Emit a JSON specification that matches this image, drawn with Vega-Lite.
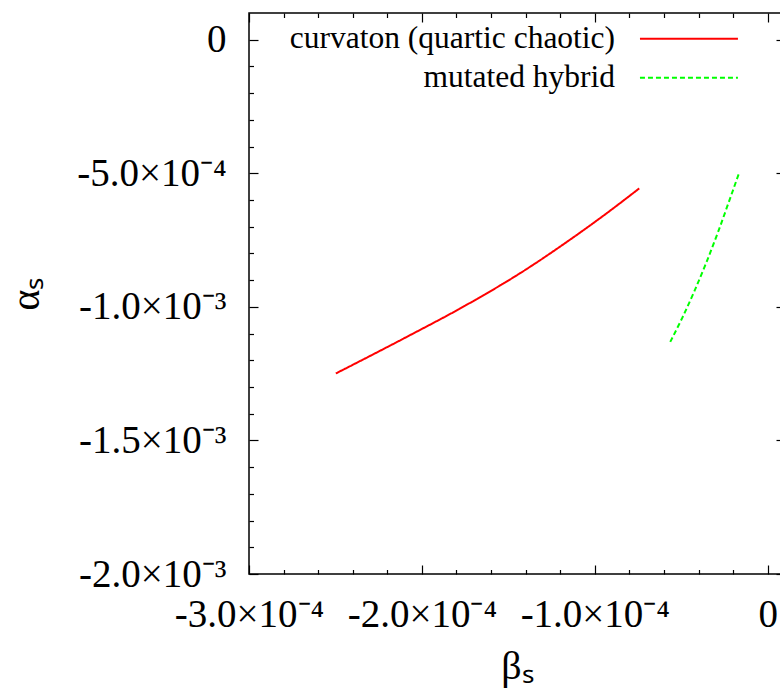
{
  "$schema": "https://vega.github.io/schema/vega-lite/v6.json",
  "width": 536,
  "height": 561,
  "autosize": {"type": "none"},
  "padding": {"left": 249, "top": 13, "right": 0, "bottom": 116},
  "background": "white",
  "config": {
    "view": {"stroke": "black", "strokeWidth": 1.5},
    "axis": {
      "grid": false,
      "domain": false,
      "labelFont": "Liberation Serif",
      "labelFontSize": 39,
      "labelColor": "black",
      "tickColor": "black",
      "tickWidth": 1.2,
      "titleFont": "Liberation Serif",
      "titleFontSize": 40,
      "titleFontWeight": "normal",
      "titleColor": "black",
      "labelFlush": false,
      "labelOverlap": false,
      "labelBound": false
    }
  },
  "data": {
    "values": [
      {"model": "curvaton (quartic chaotic)", "beta": -0.0002498, "alpha": -0.0012494},
      {"model": "curvaton (quartic chaotic)", "beta": -0.0002107, "alpha": -0.001119},
      {"model": "curvaton (quartic chaotic)", "beta": -0.000174, "alpha": -0.000992},
      {"model": "curvaton (quartic chaotic)", "beta": -0.0001432, "alpha": -0.000874},
      {"model": "curvaton (quartic chaotic)", "beta": -0.0001142, "alpha": -0.000748},
      {"model": "curvaton (quartic chaotic)", "beta": -0.000093, "alpha": -0.000649},
      {"model": "curvaton (quartic chaotic)", "beta": -0.0000743, "alpha": -0.0005566},
      {"model": "mutated hybrid", "beta": -0.00005637, "alpha": -0.0011311},
      {"model": "mutated hybrid", "beta": -0.00004942, "alpha": -0.0010412},
      {"model": "mutated hybrid", "beta": -0.00004248, "alpha": -0.0009423},
      {"model": "mutated hybrid", "beta": -0.00003553, "alpha": -0.0008345},
      {"model": "mutated hybrid", "beta": -0.00002859, "alpha": -0.0007176},
      {"model": "mutated hybrid", "beta": -0.00002164, "alpha": -0.0005918},
      {"model": "mutated hybrid", "beta": -0.00001684, "alpha": -0.0005041}
    ]
  },
  "layer": [
    {
      "mark": {"type": "line", "strokeWidth": 2, "interpolate": "monotone"},
      "encoding": {
        "x": {
          "field": "beta", "type": "quantitative",
          "scale": {"domain": [-0.0003, 0.00001], "nice": false, "zero": false},
          "axis": {
            "orient": "bottom",
            "values": [-0.0003, -0.0002, -0.0001, 0],
            "labelExpr": "datum.value == 0 ? '0' : '-' + format(abs(datum.value)*10000, '.1f') + '×10⁻⁴'",
            "tickSize": -9,
            "labelPadding": 30.5,
            "title": "βₛ",
            "titlePadding": 12
          }
        },
        "y": {
          "field": "alpha", "type": "quantitative",
          "scale": {"domain": [-0.002, 0.0001], "nice": false, "zero": false},
          "axis": {
            "orient": "left",
            "values": [0, -0.0005, -0.001, -0.0015, -0.002],
            "labelExpr": "datum.value == 0 ? '0' : abs(datum.value) < 0.0009 ? '-' + format(abs(datum.value)*10000, '.1f') + '×10⁻⁴' : '-' + format(abs(datum.value)*1000, '.1f') + '×10⁻³'",
            "tickSize": -9,
            "labelPadding": 32,
            "title": "αₛ",
            "titlePadding": 30
          }
        },
        "color": {
          "field": "model", "type": "nominal",
          "scale": {"domain": ["curvaton (quartic chaotic)", "mutated hybrid"], "range": ["#ff0000", "#00ff00"]},
          "legend": {
            "orient": "none", "legendX": 391, "legendY": 10, "padding": 0, "title": null,
            "labelFont": "Liberation Serif", "labelFontSize": 31.5, "labelColor": "black",
            "labelAlign": "right", "labelOffset": -89.6, "labelLimit": 600,
            "symbolType": "M-5,0L5,0", "symbolSize": 384, "symbolStrokeWidth": 2, "symbolOffset": 33.2,
            "rowPadding": 6
          }
        },
        "strokeDash": {
          "field": "model", "type": "nominal",
          "scale": {"domain": ["curvaton (quartic chaotic)", "mutated hybrid"], "range": [[1, 0], [5, 3]]},
          "legend": {
            "orient": "none", "legendX": 391, "legendY": 10, "padding": 0, "title": null,
            "labelFont": "Liberation Serif", "labelFontSize": 31.5, "labelColor": "black",
            "labelAlign": "right", "labelOffset": -89.6, "labelLimit": 600,
            "symbolType": "M-5,0L5,0", "symbolSize": 384, "symbolStrokeWidth": 2, "symbolOffset": 33.2,
            "rowPadding": 6
          }
        }
      }
    },
    {
      "mark": {"type": "line", "strokeOpacity": 0},
      "encoding": {
        "detail": {"field": "model"},
        "x": {
          "field": "beta", "type": "quantitative",
          "axis": {
            "orient": "bottom",
            "values": [-0.00028, -0.00026, -0.00024, -0.00022, -0.00018, -0.00016, -0.00014, -0.00012, -0.00008, -0.00006, -0.00004, -0.00002],
            "labels": false, "tickSize": -4.5, "title": null
          }
        },
        "y": {
          "field": "alpha", "type": "quantitative",
          "axis": {
            "orient": "left",
            "values": [-0.0001, -0.0002, -0.0003, -0.0004, -0.0006, -0.0007, -0.0008, -0.0009, -0.0011, -0.0012, -0.0013, -0.0014, -0.0016, -0.0017, -0.0018, -0.0019],
            "labels": false, "tickSize": -4.5, "title": null
          }
        }
      }
    },
    {
      "mark": {"type": "line", "strokeOpacity": 0},
      "encoding": {
        "detail": {"field": "model"},
        "x": {
          "field": "beta", "type": "quantitative",
          "axis": {"orient": "top", "values": [-0.0003, -0.0002, -0.0001, 0], "labels": false, "tickSize": -9, "title": null}
        },
        "y": {
          "field": "alpha", "type": "quantitative",
          "axis": {"orient": "right", "values": [0, -0.0005, -0.001, -0.0015, -0.002], "labels": false, "tickSize": -9, "title": null}
        }
      }
    },
    {
      "mark": {"type": "line", "strokeOpacity": 0},
      "encoding": {
        "detail": {"field": "model"},
        "x": {
          "field": "beta", "type": "quantitative",
          "axis": {
            "orient": "top",
            "values": [-0.00028, -0.00026, -0.00024, -0.00022, -0.00018, -0.00016, -0.00014, -0.00012, -0.00008, -0.00006, -0.00004, -0.00002],
            "labels": false, "tickSize": -4.5, "title": null
          }
        },
        "y": {
          "field": "alpha", "type": "quantitative",
          "axis": {
            "orient": "right",
            "values": [-0.0001, -0.0002, -0.0003, -0.0004, -0.0006, -0.0007, -0.0008, -0.0009, -0.0011, -0.0012, -0.0013, -0.0014, -0.0016, -0.0017, -0.0018, -0.0019],
            "labels": false, "tickSize": -4.5, "title": null
          }
        }
      }
    }
  ],
  "resolve": {"axis": {"x": "independent", "y": "independent"}}
}
